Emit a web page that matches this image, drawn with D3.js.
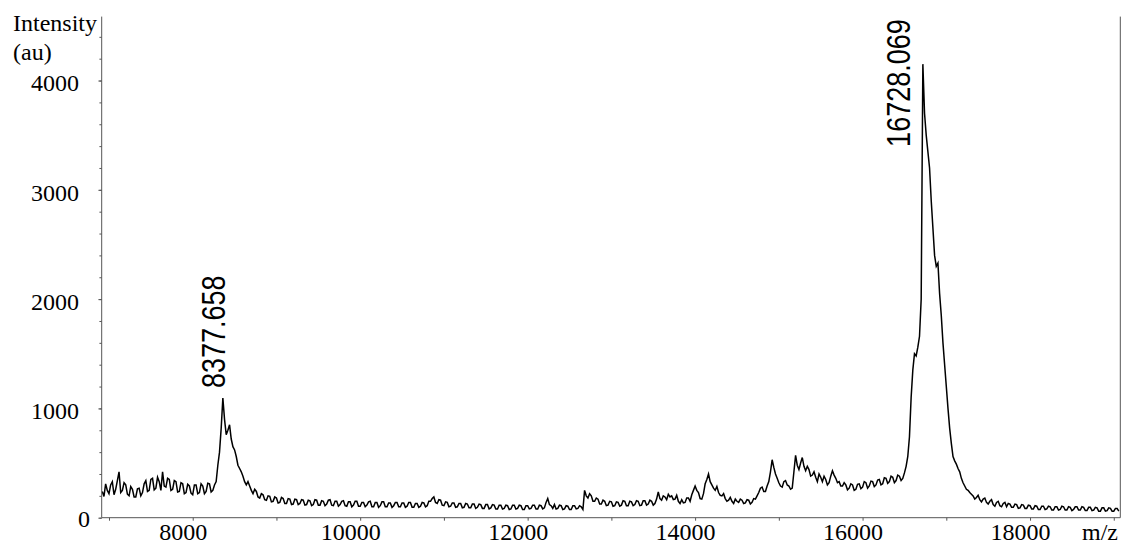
<!DOCTYPE html>
<meta charset="utf-8">
<script src="https://cdn.jsdelivr.net/npm/d3@7"></script>
<style>
	body { margin: 0; background: #fff; }
	.tick-label { font-family: "Liberation Serif", "Times New Roman", serif; font-size: 24px; fill: #000; }
	.peak-label { font-family: "Liberation Sans", Arial, sans-serif; font-size: 27px; fill: #000; }
</style>
<body>
<script>
var mzStart = 6920,
	mzStep = 20;
var intensity = [
	240, 195, 310, 250, 220, 300, 330, 210, 260, 340, 420, 230, 250, 320, 300, 215, 200, 285, 260, 190,             // 6920
	190, 265, 270, 200, 230, 310, 340, 240, 250, 350, 360, 255, 270, 370, 330, 250, 420, 290, 280, 360,             // 7320
	350, 250, 260, 340, 330, 235, 240, 320, 310, 220, 230, 305, 290, 225, 210, 300, 300, 220, 230, 310,             // 7720
	290, 220, 240, 315, 310, 235, 250, 300, 330, 480, 600, 820, 1095, 900, 760, 800, 850, 720, 650, 620,            // 8120
	560, 480, 450, 420, 380, 330, 300, 330, 290, 250, 220, 260, 240, 190, 180, 220, 210, 165, 160, 200,             // 8520
	195, 145, 150, 190, 180, 135, 140, 185, 175, 130, 130, 175, 170, 120, 125, 170, 165, 120, 130, 165,             // 8920
	160, 115, 120, 160, 155, 110, 120, 165, 160, 115, 115, 155, 150, 110, 125, 160, 165, 115, 110, 150,             // 9320
	150, 105, 120, 150, 155, 110, 105, 145, 145, 100, 115, 150, 150, 105, 105, 140, 140, 100, 115, 145,             // 9720
	150, 100, 100, 140, 140, 95, 110, 145, 145, 100, 100, 135, 135, 95, 110, 140, 140, 100, 100, 135,               // 10120
	135, 95, 105, 140, 140, 95, 95, 130, 130, 95, 105, 140, 135, 100, 110, 150, 150, 175, 190, 140,                 // 10520
	130, 165, 160, 115, 110, 145, 140, 100, 105, 135, 135, 95, 100, 130, 130, 90, 95, 130, 125, 90,                 // 10920
	90, 125, 125, 85, 95, 125, 120, 85, 85, 120, 120, 80, 90, 120, 115, 80, 80, 115, 115, 80,                       // 11320
	85, 115, 110, 75, 80, 115, 115, 80, 85, 115, 110, 75, 75, 110, 110, 80, 85, 115, 115, 80,                       // 11720
	80, 115, 110, 80, 90, 140, 175, 120, 110, 85, 120, 80, 85, 115, 110, 75, 80, 110, 105, 75,                      // 12120
	75, 110, 110, 80, 85, 110, 100, 75, 250, 200, 180, 220, 200, 150, 150, 180, 170, 125, 125, 160,                 // 12520
	150, 110, 115, 150, 145, 105, 110, 145, 140, 105, 115, 155, 150, 110, 110, 150, 145, 110, 120, 155,             // 12920
	150, 110, 115, 155, 155, 115, 125, 160, 150, 115, 130, 170, 235, 175, 160, 200, 190, 165, 215, 190,             // 13320
	200, 165, 170, 205, 150, 130, 165, 135, 140, 180, 180, 150, 210, 250, 290, 250, 230, 175, 170, 220,             // 13720
	310, 350, 400, 330, 300, 270, 250, 285, 230, 205, 200, 220, 175, 150, 160, 185, 150, 130, 170, 150,             // 14120
	140, 170, 160, 130, 135, 165, 160, 125, 140, 175, 170, 200, 230, 270, 280, 240, 240, 290, 330, 420,             // 14520
	530, 460, 400, 360, 320, 290, 280, 330, 340, 300, 290, 260, 270, 420, 570, 480, 440, 500, 550, 470,             // 14920
	430, 470, 440, 380, 390, 420, 370, 330, 400, 370, 330, 380, 350, 300, 320, 380, 430, 390, 360, 320,             // 15320
	330, 290, 290, 320, 300, 255, 270, 310, 300, 250, 260, 305, 310, 265, 280, 330, 320, 270, 290, 335,             // 15720
	330, 285, 300, 345, 350, 300, 310, 365, 360, 315, 330, 380, 370, 320, 340, 390, 380, 340, 360, 410,             // 16120
	470, 560, 740, 1100, 1350, 1500, 1480, 1560, 1660, 2000, 4150, 3700, 3500, 3350, 3200, 2900, 2650, 2400, 2300, 2330, // 16520
	2050, 1850, 1600, 1400, 1200, 1000, 820, 680, 560, 520, 490, 450, 420, 360, 320, 290, 260, 250, 230, 215,       // 16920
	200, 170, 185, 205, 165, 145, 170, 180, 140, 125, 150, 165, 120, 105, 140, 150, 110, 100, 130, 140,             // 17320
	100, 130, 125, 95, 95, 125, 120, 85, 90, 120, 115, 85, 85, 115, 110, 80, 80, 110, 105, 75,                      // 17720
	75, 105, 105, 75, 80, 105, 100, 70, 70, 100, 100, 70, 75, 105, 100, 70, 70, 100, 95, 65,                        // 18120
	75, 100, 100, 70, 70, 100, 95, 65, 65, 95, 95, 65, 70, 95, 90, 60, 60, 90, 90, 60,                              // 18520
	65, 90, 85, 60, 60, 85, 85, 60                                                                                  // 18920
];
var peakMz = [8377.658, 16728.069],
	peakText = ["8377.658", "16728.069"],
	peakLabelAt = [1187, 3393];   // intensity level where each label starts
var xTicks = [8000, 10000, 12000, 14000, 16000, 18000],
	yTicks = [0, 1000, 2000, 3000, 4000];

var w = 1126,
	h = 546;

var svg = d3.select('body').append('svg')
	.attr('width', w)
	.attr('height', h);

var x = d3.scaleLinear().domain([6913, 19078]).range([101.7, 1120.3]);
var y = d3.scaleLinear().domain([0, 4585]).range([517.7, 16.6]);

var spectrum = intensity.map(function (v, i) { return { mz: mzStart + i * mzStep, v: v }; });

// spectrum trace
svg.append('path')
	.datum(spectrum)
	.attr('fill', 'none')
	.attr('stroke', '#000')
	.attr('stroke-width', 1.5)
	.attr('d', d3.line().x(function (d) { return x(d.mz); }).y(function (d) { return y(d.v); }));

// axes
var axisColor = '#555';
svg.append('g')
	.attr('transform', 'translate(0,' + y(0) + ')')
	.call(d3.axisBottom(x).tickValues(d3.range(7000, 19001, 1000)).tickSize(3).tickFormat(''));
svg.append('g')
	.attr('transform', 'translate(' + x.range()[0] + ',0)')
	.call(d3.axisLeft(y).tickValues(d3.range(0, 4401, 200)).tickSize(2.3).tickFormat(''));
svg.append('g')
	.attr('transform', 'translate(' + x.range()[0] + ',0)')
	.call(d3.axisLeft(y).tickValues(yTicks).tickSize(3.3).tickFormat(''));
svg.selectAll('.domain').remove();
svg.selectAll('.tick line').attr('stroke', axisColor);

svg.append('line')
	.attr('x1', x.range()[0]).attr('x2', x.range()[1])
	.attr('y1', y(0)).attr('y2', y(0))
	.attr('stroke', axisColor);
svg.append('line')
	.attr('x1', x.range()[0]).attr('x2', x.range()[0])
	.attr('y1', y.range()[1]).attr('y2', y(0))
	.attr('stroke', axisColor);
svg.append('line')
	.attr('x1', x.range()[1]).attr('x2', x.range()[1])
	.attr('y1', y.range()[1]).attr('y2', y(0))
	.attr('stroke', axisColor);

// tick labels
svg.selectAll('.xlab')
	.data(xTicks)
	.enter()
	.append('text')
	.attr('class', 'tick-label')
	.attr('x', function (d) { return x(d) - 9.5; })
	.attr('y', 540)
	.style('text-anchor', 'middle')
	.text(function (d) { return d; });

svg.selectAll('.ylab')
	.data(yTicks)
	.enter()
	.append('text')
	.attr('class', 'tick-label')
	.attr('x', function (d) { return d === 0 ? 90 : 79; })
	.attr('y', function (d) { return y(d) + (d === 0 ? 9 : 10.8); })
	.style('text-anchor', 'end')
	.text(function (d) { return d; });

svg.append('text').attr('class', 'tick-label').attr('x', 13).attr('y', 30.5).text('Intensity');
svg.append('text').attr('class', 'tick-label').attr('x', 13).attr('y', 60).text('(au)');
svg.append('text').attr('class', 'tick-label').attr('x', 1118).attr('y', 540).style('text-anchor', 'end').text('m/z');

// peak annotations
var peakDx = [0.7, -13.5];
svg.selectAll('.peak')
	.data(peakMz)
	.enter()
	.append('text')
	.attr('class', 'peak-label')
	.attr('transform', function (d, i) {
		return 'translate(' + (x(d) + peakDx[i]) + ',' + y(peakLabelAt[i]) + ') rotate(-90) scale(1,1.2)';
	})
	.text(function (d, i) { return peakText[i]; });
</script>
</body>
</html>
